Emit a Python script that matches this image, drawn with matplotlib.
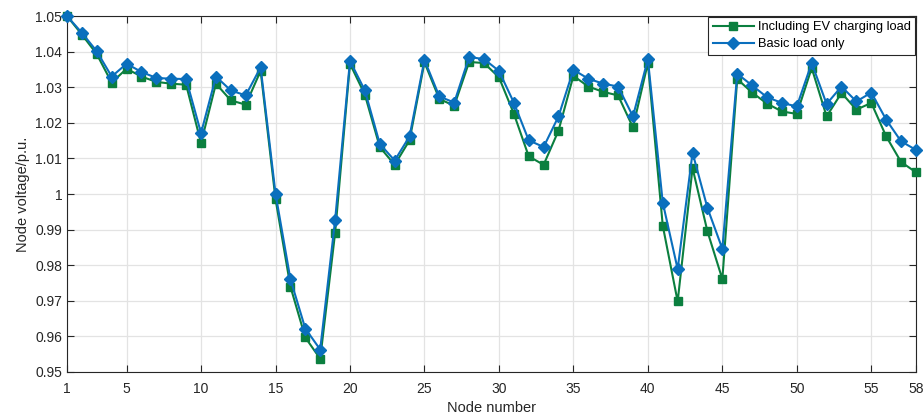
import matplotlib
matplotlib.use("Agg")
import matplotlib.pyplot as plt
from matplotlib.ticker import FuncFormatter

plt.rcParams['font.family'] = ['Liberation Sans', 'DejaVu Sans']

nodes = list(range(1, 59))

# node voltages (p.u.)
v_ev = [1.0500, 1.0448, 1.0393, 1.0313, 1.0352, 1.0330, 1.0315, 1.0310, 1.0307, 1.0143,
        1.0310, 1.0263, 1.0251, 1.0346, 0.9986, 0.9740, 0.9597, 0.9537, 0.9890, 1.0366,
        1.0279, 1.0132, 1.0082, 1.0151, 1.0370, 1.0267, 1.0248, 1.0371, 1.0368, 1.0328,
        1.0226, 1.0106, 1.0082, 1.0178, 1.0332, 1.0302, 1.0287, 1.0277, 1.0187, 1.0368,
        0.9911, 0.9698, 1.0073, 0.9895, 0.9761, 1.0323, 1.0285, 1.0254, 1.0232, 1.0225,
        1.0354, 1.0218, 1.0284, 1.0237, 1.0256, 1.0162, 1.0090, 1.0061]
v_base = [1.0500, 1.0453, 1.0401, 1.0330, 1.0366, 1.0343, 1.0326, 1.0324, 1.0323, 1.0171,
          1.0330, 1.0291, 1.0277, 1.0356, 1.0001, 0.9761, 0.9622, 0.9563, 0.9926, 1.0374,
          1.0291, 1.0141, 1.0094, 1.0162, 1.0377, 1.0274, 1.0257, 1.0385, 1.0379, 1.0346,
          1.0257, 1.0151, 1.0132, 1.0218, 1.0349, 1.0324, 1.0310, 1.0302, 1.0218, 1.0379,
          0.9976, 0.9789, 1.0116, 0.9961, 0.9846, 1.0338, 1.0305, 1.0272, 1.0256, 1.0246,
          1.0368, 1.0253, 1.0302, 1.0260, 1.0285, 1.0209, 1.0148, 1.0124]

xticks = [1, 5, 10, 15, 20, 25, 30, 35, 40, 45, 50, 55, 58]
yticks = [0.95, 0.96, 0.97, 0.98, 0.99, 1.00, 1.01, 1.02, 1.03, 1.04, 1.05]

green = '#0b7f3f'
blue = '#0a6fbd'
dark = '#262626'

fig = plt.figure(figsize=(9.24, 4.17), dpi=100)
ax = fig.add_axes([0.0725, 0.108, 0.9188, 0.8535])

ax.plot(nodes, v_ev, color=green, lw=1.5, marker='s', ms=6.3, clip_on=False,
        zorder=3, label='Including EV charging load')
ax.plot(nodes, v_base, color=blue, lw=1.5, marker='D', ms=6.5, clip_on=False,
        zorder=4, label='Basic load only')

ax.set_xlim(1, 58)
ax.set_ylim(0.95, 1.05)
ax.set_xticks(xticks)
ax.set_yticks(yticks)
ax.yaxis.set_major_formatter(FuncFormatter(lambda v, p: '%g' % round(v, 2)))

ax.grid(True, color='#e3e3e3', lw=0.9)
ax.set_axisbelow(True)
ax.tick_params(direction='in', top=True, right=True, length=5, width=0.8,
               colors=dark, labelsize=10, labelcolor=dark)
ax.tick_params(axis='x', pad=7)
for s in ax.spines.values():
    s.set_color(dark)
    s.set_linewidth(0.8)

ax.set_xlabel('Node number', fontsize=10.5, color=dark, labelpad=4)
ax.set_ylabel('Node voltage/p.u.', fontsize=10.5, color=dark, labelpad=4)

leg = ax.legend(loc='upper right', fontsize=9.3, frameon=True, fancybox=False,
                borderaxespad=0.05, borderpad=0.35, labelspacing=0.4,
                handlelength=3.2, handletextpad=0.3, markerscale=0.95)
leg.get_frame().set_edgecolor(dark)
leg.get_frame().set_linewidth(0.8)
leg.get_frame().set_alpha(1)
leg.set_zorder(10)

fig.savefig('out.png', dpi=100)
